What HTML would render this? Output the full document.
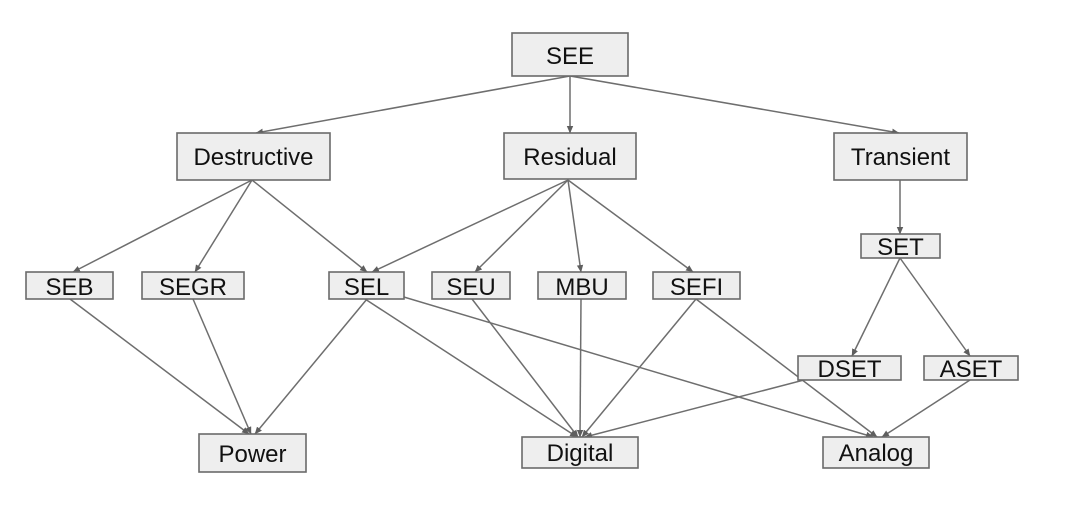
<!DOCTYPE html>
<html><head><meta charset="utf-8"><style>
html,body{margin:0;padding:0;background:#fff;}
svg{display:block;}
text{font-family:"Liberation Sans",Arial,sans-serif;font-size:24px;fill:#111;text-anchor:middle;}
.b{fill:#eeeeee;stroke:#6a6a6a;stroke-width:1.6;}
.e{stroke:#6e6e6e;stroke-width:1.5;fill:none;marker-end:url(#a);}
</style></head><body>
<svg width="1071" height="519" viewBox="0 0 1071 519" xmlns="http://www.w3.org/2000/svg">
<defs>
<marker id="a" markerWidth="8" markerHeight="8" refX="7" refY="4" orient="auto" markerUnits="userSpaceOnUse">
<path d="M0,0.8 L7.5,4 L0,7.2 Z" fill="#5e5e5e"/>
</marker>
</defs>
<rect width="1071" height="519" fill="#fff"/>
<!-- edges -->
<line class="e" x1="570" y1="76" x2="256" y2="133"/>
<line class="e" x1="570" y1="76" x2="570" y2="133"/>
<line class="e" x1="570" y1="76" x2="899" y2="133"/>
<line class="e" x1="252" y1="180" x2="73" y2="272"/>
<line class="e" x1="252" y1="180" x2="195" y2="272"/>
<line class="e" x1="252" y1="180" x2="367" y2="272"/>
<line class="e" x1="568" y1="180" x2="372" y2="272"/>
<line class="e" x1="568" y1="180" x2="475" y2="272"/>
<line class="e" x1="568" y1="180" x2="581" y2="272"/>
<line class="e" x1="568" y1="180" x2="693" y2="272"/>
<line class="e" x1="900" y1="180" x2="900" y2="234"/>
<line class="e" x1="900" y1="258" x2="852" y2="356"/>
<line class="e" x1="900" y1="258" x2="970" y2="356"/>
<line class="e" x1="70" y1="299" x2="249" y2="434"/>
<line class="e" x1="193" y1="299" x2="251" y2="434"/>
<line class="e" x1="367" y1="299" x2="255" y2="434"/>
<line class="e" x1="365" y1="299" x2="577" y2="437"/>
<line class="e" x1="367" y1="286" x2="873" y2="437"/>
<line class="e" x1="472" y1="299" x2="578" y2="437"/>
<line class="e" x1="581" y1="299" x2="580" y2="437"/>
<line class="e" x1="696" y1="299" x2="582" y2="437"/>
<line class="e" x1="696" y1="299" x2="877" y2="437"/>
<line class="e" x1="850" y1="368" x2="585" y2="437"/>
<line class="e" x1="970" y1="380" x2="882" y2="437"/>
<!-- boxes -->
<rect class="b" x="512" y="33" width="116" height="43"/><text x="570" y="64">SEE</text>
<rect class="b" x="177" y="133" width="153" height="47"/><text x="253.5" y="165">Destructive</text>
<rect class="b" x="504" y="133" width="132" height="46"/><text x="570" y="165">Residual</text>
<rect class="b" x="834" y="133" width="133" height="47"/><text x="900.5" y="165">Transient</text>
<rect class="b" x="26" y="272" width="87" height="27"/><text x="69.5" y="295">SEB</text>
<rect class="b" x="142" y="272" width="102" height="27"/><text x="193" y="295">SEGR</text>
<rect class="b" x="329" y="272" width="75" height="27"/><text x="366.5" y="295">SEL</text>
<rect class="b" x="432" y="272" width="78" height="27"/><text x="471" y="295">SEU</text>
<rect class="b" x="538" y="272" width="88" height="27"/><text x="582" y="295">MBU</text>
<rect class="b" x="653" y="272" width="87" height="27"/><text x="696.5" y="295">SEFI</text>
<rect class="b" x="861" y="234" width="79" height="24"/><text x="900.5" y="255">SET</text>
<rect class="b" x="798" y="356" width="103" height="24"/><text x="849.5" y="377">DSET</text>
<rect class="b" x="924" y="356" width="94" height="24"/><text x="971" y="377">ASET</text>
<rect class="b" x="199" y="434" width="107" height="38"/><text x="252.5" y="462">Power</text>
<rect class="b" x="522" y="437" width="116" height="31"/><text x="580" y="461">Digital</text>
<rect class="b" x="823" y="437" width="106" height="31"/><text x="876" y="461">Analog</text>
</svg>
</body></html>
